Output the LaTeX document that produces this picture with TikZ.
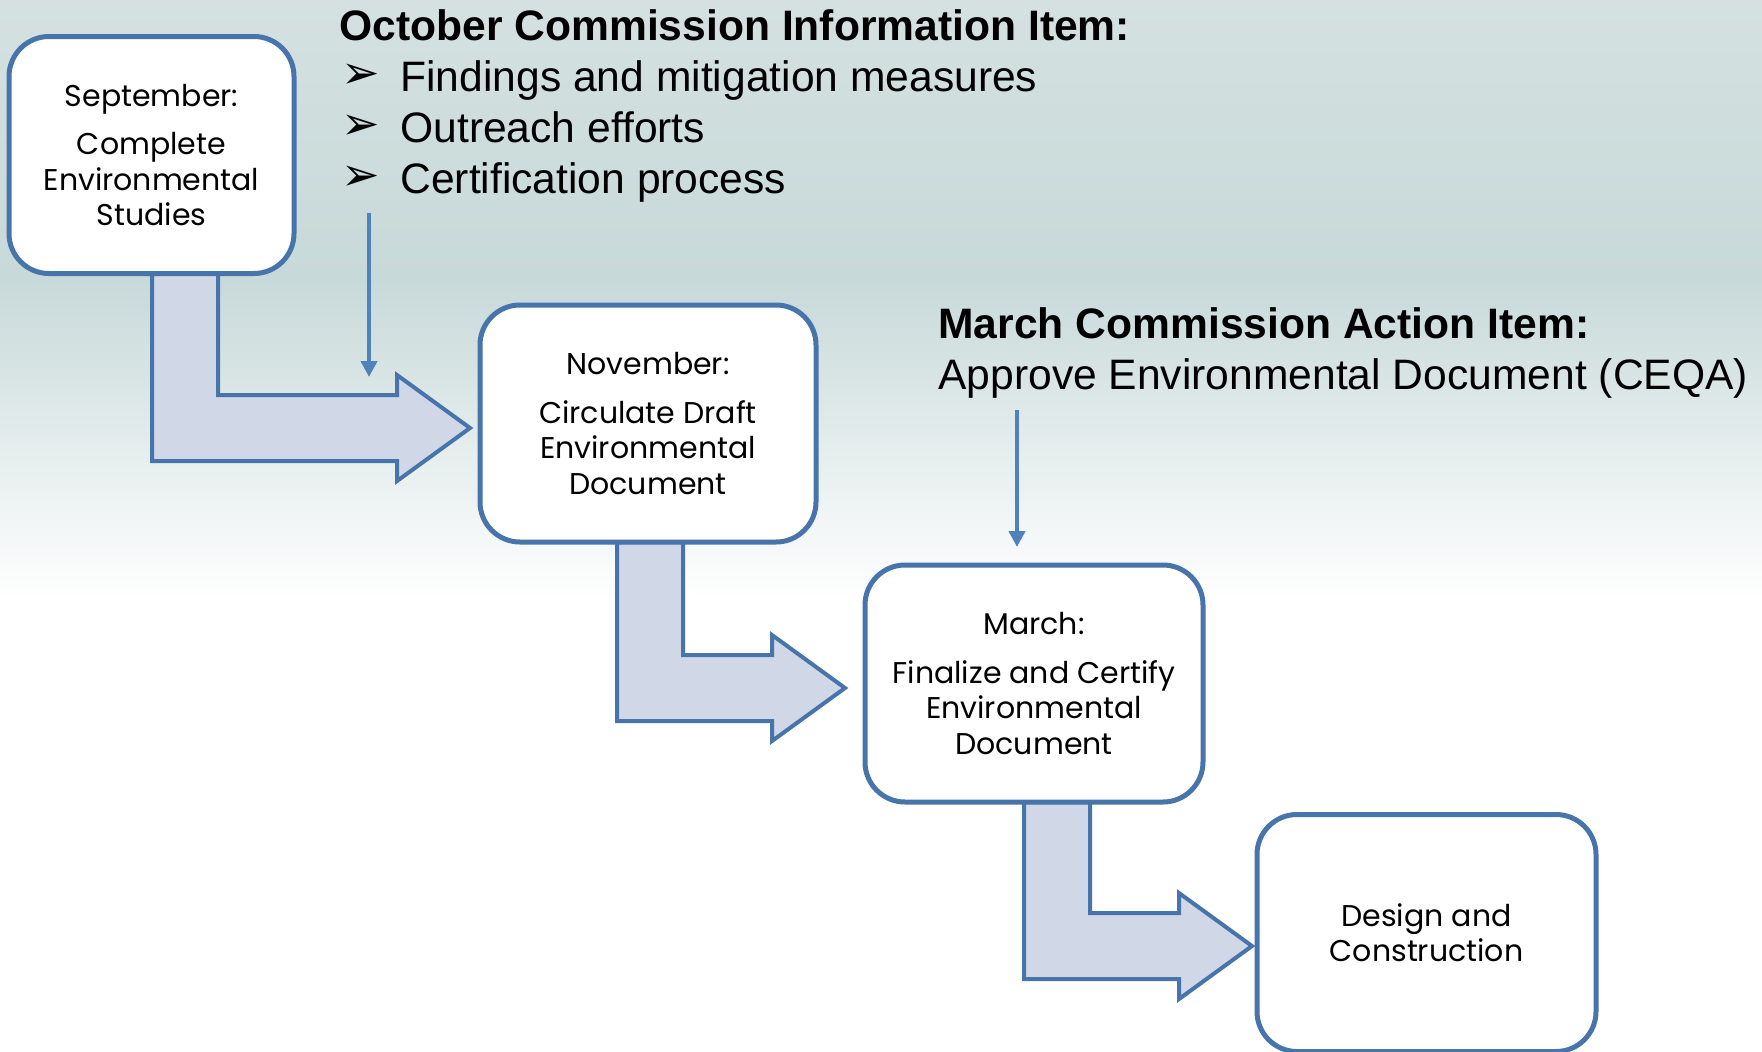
\documentclass[tikz,border=0pt]{standalone}
\usepackage{fontspec}
\setmainfont{Liberation Sans}
\newfontfamily\boxfont{Poppins}
\newfontfamily\symfont{DejaVu Sans}
\usetikzlibrary{arrows.meta,calc}

\definecolor{boxblue}{RGB}{72,116,172}
\definecolor{arrowfill}{RGB}{208,216,232}
\definecolor{pointblue}{RGB}{79,129,189}
\definecolor{bgtop}{RGB}{212,225,224}
\definecolor{bgmid}{RGB}{200,217,217}

\pgfdeclarelayer{bg}
\pgfdeclarelayer{blocks}
\pgfsetlayers{bg,blocks,main}

\tikzset{
  stage/.style={draw=boxblue, line width=2.5pt, fill=white, rounded corners=20pt,
    minimum width=168pt, minimum height=118.5pt, inner sep=0pt, outer sep=0pt,
    align=center, font=\boxfont\fontsize{15}{17.7}\selectfont},
  headline/.style={anchor=base west, inner sep=0pt, font=\bfseries\fontsize{21.3}{25}\selectfont},
  itemtext/.style={anchor=base west, inner sep=0pt, font=\fontsize{21.3}{25}\selectfont},
  itemmark/.style={anchor=west, inner sep=0pt, font=\symfont\fontsize{23}{26}\selectfont},
  bendarrow/.style={draw=boxblue, fill=arrowfill, line width=2pt, line join=miter},
  pointer/.style={draw=pointblue, line width=2.3pt, -{Triangle[width=8pt,length=8pt]}},
}

% bent block arrow: from box, stem left (px), to box, tip shift
\newcommand\bendarrow[4]{%
  \draw[bendarrow] let \p1=(#1.south), \p2=([#4]#3.west) in
    ({#2*0.5pt},\y1) -- ({#2*0.5pt},\y2-16.5pt) -- (\x2-36.5pt,\y2-16.5pt)
    -- (\x2-36.5pt,\y2-26.5pt) -- (\p2) -- (\x2-36.5pt,\y2+26.5pt)
    -- (\x2-36.5pt,\y2+16.5pt) -- ({#2*0.5pt+33pt},\y2+16.5pt)
    -- ({#2*0.5pt+33pt},\y1) -- cycle;
}

\begin{document}
\begin{tikzpicture}[x=0.5pt,y=-0.5pt]
\useasboundingbox (0,0) rectangle (1762,1051);

% stages
\node[stage, minimum width=142.5pt] (sep) at (151.5,155) {September:\\[6.5pt]Complete\\Environmental\\Studies};
\node[stage] (nov) at (648,423.5) {November:\\[6.5pt]Circulate Draft\\Environmental\\Document};
\node[stage, minimum width=169pt] (mar) at (1034,683.5) {March:\\[6.5pt]Finalize and Certify\\Environmental\\Document};
\node[stage, minimum width=169.5pt] (build) at (1426.5,933) {Design and\\Construction};

% commission items
\node[headline] (octtitle) at (339,40.5) {October Commission Information Item:};
\foreach \txt [count=\i] in {Findings and mitigation measures, Outreach efforts, Certification process}{
    \node[itemmark] (octmark\i) at (341,{25+51*\i}) {➢};
    \node[itemtext] (octitem\i) at (400,{40.5+51*\i}) {\txt};
}
\node[headline] (martitle) at (938,338) {March Commission Action Item:};
\node[itemtext] (maritem) at (938,389) {Approve Environmental Document (CEQA)};

\coordinate (octtop) at (369,213);
\coordinate (octbot) at (369,377);
\coordinate (martop) at (1017,410);
\coordinate (marbot) at (1017,547);
\draw[pointer] (octtop) -- (octbot);
\draw[pointer] (martop) -- (marbot);

\begin{pgfonlayer}{blocks}
\bendarrow{sep}{152}{nov}{xshift=-5pt,yshift=-2.25pt}
\bendarrow{nov}{617}{mar}{xshift=-10pt,yshift=-2.25pt}
\bendarrow{mar}{1024}{build}{xshift=-2.5pt,yshift=-6.5pt}
\end{pgfonlayer}

\begin{pgfonlayer}{bg}
\fill[top color=bgtop, bottom color=bgmid] (0,0) rectangle (1762,280);
\fill[top color=bgmid, bottom color=white] (0,280) rectangle (1762,600);
\fill[white] (0,600) rectangle (1762,1051);
\end{pgfonlayer}
\end{tikzpicture}
\end{document}
